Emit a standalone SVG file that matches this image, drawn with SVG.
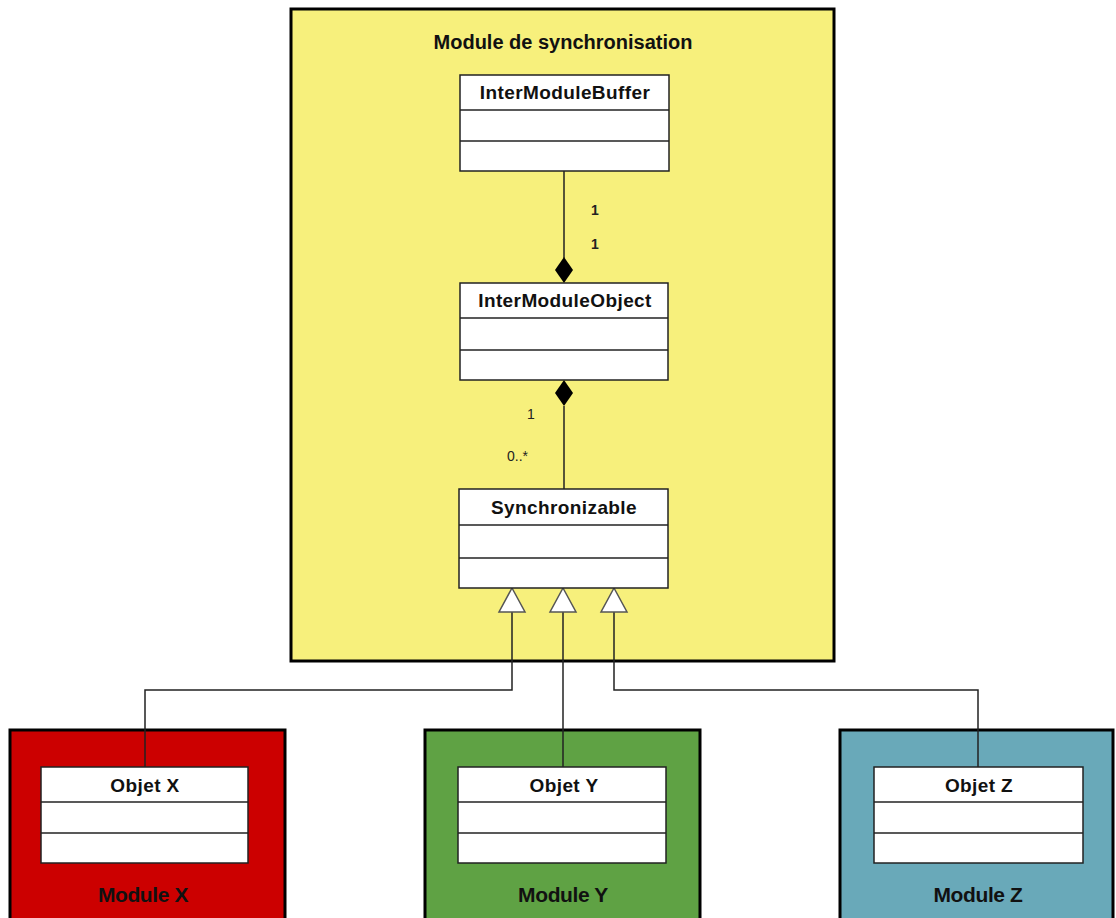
<svg xmlns="http://www.w3.org/2000/svg" width="1116" height="918" viewBox="0 0 1116 918">
<style>
.cls{fill:#ffffff;stroke:#222;stroke-width:1.5}
.div{stroke:#222;stroke-width:1.5}
.cname{font-family:"Liberation Sans",Arial,sans-serif;font-size:19px;font-weight:bold;fill:#111;text-anchor:middle;letter-spacing:0.4px}
.mod{stroke:#000;stroke-width:3}
.mname{font-family:"Liberation Sans",Arial,sans-serif;font-size:21px;font-weight:bold;fill:#111;text-anchor:middle;letter-spacing:-0.4px}
.conn{fill:none;stroke:#222;stroke-width:1.5}
.mult{font-family:"Liberation Sans",Arial,sans-serif;font-size:14px;fill:#222}
</style>
<rect width="1116" height="918" fill="#ffffff"/>

<g id="module-sync">
<rect class="mod" x="291" y="9" width="543" height="652" fill="#f7f07c"/>
<text x="563" y="49" font-family="Liberation Sans,Arial,sans-serif" font-size="20" font-weight="bold" fill="#111" text-anchor="middle">Module de synchronisation</text>
</g>

<g id="module-x">
<rect class="mod" x="10" y="730" width="275" height="200" fill="#cc0000"/>
<text class="mname" x="143" y="902">Module X</text>
</g>
<g id="module-y">
<rect class="mod" x="425" y="730" width="275" height="200" fill="#5fa244"/>
<text class="mname" x="563" y="902">Module Y</text>
</g>
<g id="module-z">
<rect class="mod" x="840" y="730" width="273" height="200" fill="#69a9b9"/>
<text class="mname" x="978" y="902">Module Z</text>
</g>

<g id="connectors">
<line class="conn" x1="564" y1="171" x2="564" y2="258"/>
<polygon points="564,257 573,270 564,283 555,270" fill="#000"/>
<text class="mult" x="591" y="215" font-weight="bold">1</text>
<text class="mult" x="591" y="249" font-weight="bold">1</text>
<polygon points="564,380 573,393 564,406 555,393" fill="#000"/>
<line class="conn" x1="564" y1="406" x2="564" y2="489"/>
<text class="mult" x="527" y="419" fill="#555">1</text>
<text class="mult" x="507" y="461" fill="#555">0..*</text>
<polyline class="conn" points="512,612 512,690 145,690 145,767" stroke="#555"/>
<polyline class="conn" points="563,612 563,767"/>
<polyline class="conn" points="614,612 614,690 978,690 978,767" stroke="#555"/>
<polygon points="512,588 525,612 499,612" fill="#fff" stroke="#555" stroke-width="1.5"/>
<polygon points="563,588 576,612 550,612" fill="#fff" stroke="#555" stroke-width="1.5"/>
<polygon points="614,588 627,612 601,612" fill="#fff" stroke="#555" stroke-width="1.5"/>
</g>

<g id="intermodulebuffer">
<rect class="cls" x="460" y="75" width="209" height="96"/>
<line class="div" x1="460" y1="110" x2="669" y2="110"/>
<line class="div" x1="460" y1="141" x2="669" y2="141"/>
<text class="cname" x="565" y="99">InterModuleBuffer</text>
</g>
<g id="intermoduleobject">
<rect class="cls" x="460" y="283" width="208" height="97"/>
<line class="div" x1="460" y1="318" x2="668" y2="318"/>
<line class="div" x1="460" y1="350" x2="668" y2="350"/>
<text class="cname" x="565" y="307" font-weight="normal">InterModuleObject</text>
</g>
<g id="synchronizable">
<rect class="cls" x="459" y="489" width="209" height="99"/>
<line class="div" x1="459" y1="525" x2="668" y2="525"/>
<line class="div" x1="459" y1="558" x2="668" y2="558"/>
<text class="cname" x="564" y="514">Synchronizable</text>
</g>
<g id="objet-x">
<rect class="cls" x="41" y="767" width="207" height="96"/>
<line class="div" x1="41" y1="802" x2="248" y2="802"/>
<line class="div" x1="41" y1="833" x2="248" y2="833"/>
<text class="cname" x="145" y="792">Objet X</text>
</g>
<g id="objet-y">
<rect class="cls" x="458" y="767" width="208" height="96"/>
<line class="div" x1="458" y1="802" x2="666" y2="802"/>
<line class="div" x1="458" y1="833" x2="666" y2="833"/>
<text class="cname" x="564" y="792">Objet Y</text>
</g>
<g id="objet-z">
<rect class="cls" x="874" y="767" width="209" height="96"/>
<line class="div" x1="874" y1="802" x2="1083" y2="802"/>
<line class="div" x1="874" y1="833" x2="1083" y2="833"/>
<text class="cname" x="979" y="792">Objet Z</text>
</g>
</svg>
